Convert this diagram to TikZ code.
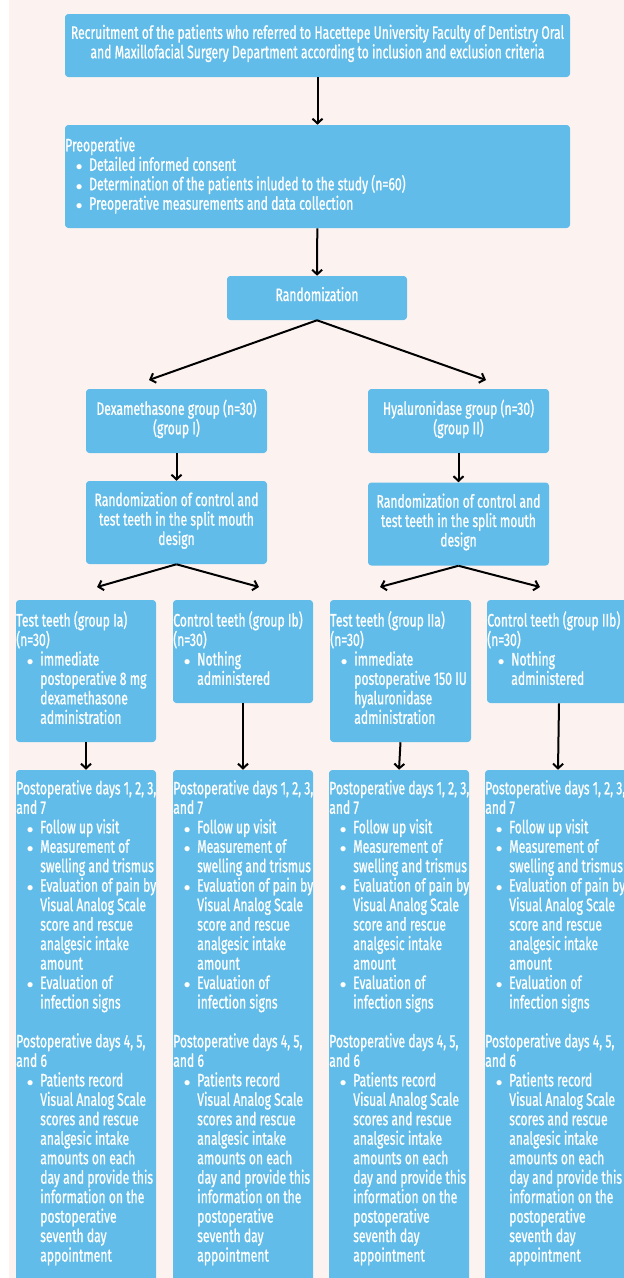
\documentclass[tikz,border=0pt]{standalone}
\usepackage{fontspec}
\setmainfont{Fira Sans}[FakeStretch=0.675, FakeBold=1]
\usepackage{xcolor}
\usetikzlibrary{arrows.meta}

\definecolor{boxblue}{RGB}{97,188,233}
\definecolor{paper}{RGB}{252,243,241}

\newcommand{\px}{0.75pt}
\newcommand{\bitem}{\hspace*{8pt}\makebox[10pt][l]{\fontsize{10}{10}\selectfont$\bullet$}}
\newcommand{\bcont}{\hspace*{18pt}}
\newcommand{\postdays}{%
Postoperative days 1, 2, 3,\\
and 7\\
\bitem Follow up visit\\
\bitem Measurement of\\
\bcont swelling and trismus\\
\bitem Evaluation of pain by\\
\bcont Visual Analog Scale\\
\bcont score and rescue\\
\bcont analgesic intake\\
\bcont amount\\
\bitem Evaluation of\\
\bcont infection signs\\
\mbox{}\\
Postoperative days 4, 5,\\
and 6\\
\bitem Patients record\\
\bcont Visual Analog Scale\\
\bcont scores and rescue\\
\bcont analgesic intake\\
\bcont amounts on each\\
\bcont day and provide this\\
\bcont information on the\\
\bcont postoperative\\
\bcont seventh day\\
\bcont appointment}

\begin{document}
\begin{tikzpicture}[x=0.75pt, y=-0.75pt,
  font=\fontsize{13.5}{14.6}\selectfont,
  box/.style={rectangle, fill=boxblue, rounded corners=2.5pt, text=white, align=center, inner sep=0pt, text depth=6pt},
  txt/.style={anchor=north west, text=white, align=left, inner sep=0pt},
  arr/.style={line width=1.5pt, -{Straight Barb[length=3.5pt, width=7.5pt]}}]

\useasboundingbox (0,0) rectangle (624,1278);
\fill[white] (0,0) rectangle (624,1278);
\fill[paper] (9,0) rectangle (624,1278);

\node[box, minimum width=505*\px, minimum height=63*\px] (recruit) at (317.5,45.5) {Recruitment of the patients who referred to Hacettepe University Faculty of Dentistry Oral\\and Maxillofacial Surgery Department according to inclusion and exclusion criteria};
\node[box, minimum width=505*\px, minimum height=103*\px] (preop) at (317.5,176.5) {};
\node[box, minimum width=180*\px, minimum height=44*\px] (rand) at (317,298) {Randomization};
\node[box, minimum width=181*\px, minimum height=64*\px] (dexa) at (176.5,421) {Dexamethasone group (n=30)\\(group I)};
\node[box, minimum width=181*\px, minimum height=64*\px] (hyal) at (458.5,421) {Hyaluronidase group (n=30)\\(group II)};
\node[box, minimum width=181*\px, minimum height=83*\px] (randl) at (176.5,522.5) {Randomization of control and\\test teeth in the split mouth\\design};
\node[box, minimum width=181*\px, minimum height=83*\px] (randr) at (458.5,524) {Randomization of control and\\test teeth in the split mouth\\design};

\node[box, minimum width=140*\px, minimum height=142*\px] (testa) at (86,671) {};
\node[box, minimum width=140*\px, minimum height=103*\px] (ctrlb) at (243,651.5) {};
\node[box, minimum width=141*\px, minimum height=142*\px] (testiia) at (400.5,671) {};
\node[box, minimum width=144*\px, minimum height=103*\px] (ctrliib) at (559,651.5) {};

\node[box, minimum width=140*\px, minimum height=520*\px] (posta) at (86,1030) {};
\node[box, minimum width=140*\px, minimum height=520*\px] (postb) at (243,1030) {};
\node[box, minimum width=140*\px, minimum height=520*\px] (postiia) at (399,1030) {};
\node[box, minimum width=146*\px, minimum height=520*\px] (postiib) at (558,1030) {};

\node[txt] (preoptxt) at (65,137) {Preoperative\\
\bitem Detailed informed consent\\
\bitem Determination of the patients inluded to the study (n=60)\\
\bitem Preoperative measurements and data collection};

\node[txt] (testatxt) at (16,611) {Test teeth (group Ia)\\(n=30)\\
\bitem immediate\\
\bcont postoperative 8 mg\\
\bcont dexamethasone\\
\bcont administration};
\node[txt] (ctrlbtxt) at (173,611) {Control teeth (group Ib)\\(n=30)\\
\bitem Nothing\\
\bcont administered};
\node[txt] (testiiatxt) at (330,611) {Test teeth (group IIa)\\(n=30)\\
\bitem immediate\\
\bcont postoperative 150 IU\\
\bcont hyaluronidase\\
\bcont administration};
\node[txt] (ctrliibtxt) at (487,611) {Control teeth (group IIb)\\(n=30)\\
\bitem Nothing\\
\bcont administered};

\node[txt] (postatxt) at (16,780) {\postdays};
\node[txt] (postbtxt) at (173,780) {\postdays};
\node[txt] (postiiatxt) at (329,780) {\postdays};
\node[txt] (postiibtxt) at (485,780) {\postdays};

\coordinate (dexain) at (149,380);
\coordinate (hyalin) at (486,380);
\coordinate (testain) at (97,587);
\coordinate (ctrlbin) at (259,587);
\coordinate (testiiain) at (380,587);
\coordinate (ctrliibin) at (540,587);

\draw[arr] (recruit) -- (preop);
\draw[arr] (preop) -- (rand);
\draw[arr] (rand.south) -- (dexain);
\draw[arr] (rand.south) -- (hyalin);
\draw[arr] (dexa.south) -- (randl.north);
\draw[arr] (hyal.south) -- (randr.north);
\draw[arr] (randl.south) -- (testain);
\draw[arr] (randl.south) -- (ctrlbin);
\draw[arr] (randr.south) -- (testiiain);
\draw[arr] (randr.south) -- (ctrliibin);
\draw[arr] (testa.south) -- (posta.north);
\draw[arr] (ctrlb.south) -- (postb.north);
\draw[arr] (testiia.south) -- (postiia.north);
\draw[arr] (ctrliib.south) -- (postiib.north);
\end{tikzpicture}
\end{document}
